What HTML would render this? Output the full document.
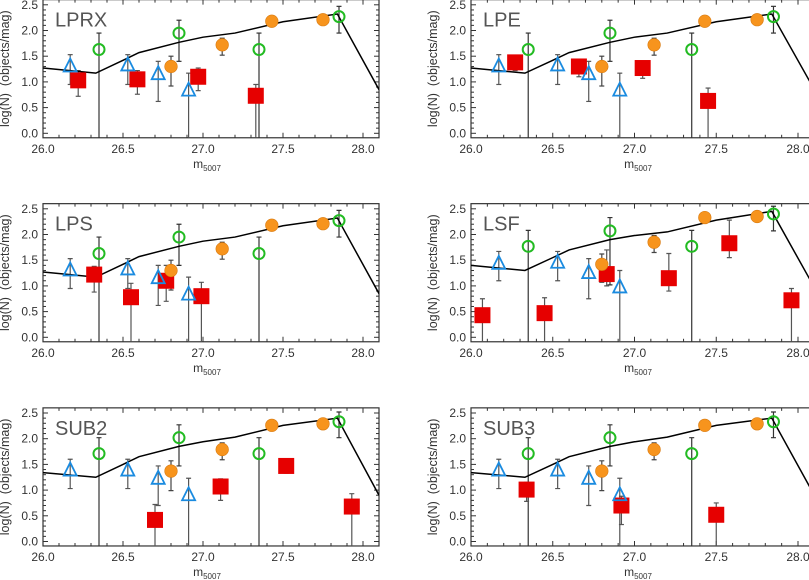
<!DOCTYPE html>
<html><head><meta charset="utf-8"><style>
html,body{margin:0;padding:0;background:#fff;}
svg{display:block;font-family:"Liberation Sans",sans-serif;}
</style></head><body>
<svg id="fig" width="809" height="580" xmlns="http://www.w3.org/2000/svg"></svg>
<script>
// ---------- data ----------
const panelNames = ["LPRX","LPE","LPS","LSF","SUB2","SUB3"];
const xTicks = [26.0,26.5,27.0,27.5,28.0];
const xTickLabels = ["26.0","26.5","27.0","27.5","28.0"];
const yTicks = [0,0.5,1,1.5,2,2.5];
const yTickLabels = ["0.0","0.5","1.0","1.5","2.0","2.5"];

const lineX = [26.0,26.33,26.5,26.6,26.85,27.0,27.2,27.5,27.84,28.1];
const lineYA = [1.27,1.17,1.42,1.57,1.77,1.87,1.95,2.17,2.32,0.85];
const lineYLSF = [1.40,1.30,1.55,1.70,1.90,1.98,2.05,2.28,2.45,0.97];
const lineYSUB = [1.34,1.25,1.50,1.65,1.85,1.94,2.03,2.26,2.40,0.90];

const triX = [26.17,26.53,26.72,26.91];
const triYA = [1.30,1.32,1.15,0.83], triLoA=[0.95,0.95,0.62,-0.1], triHiA=[1.53,1.53,1.40,1.17];
const triYLSF = [1.43,1.45,1.25,0.97], triLoLSF=[1.10,1.10,0.75,-0.1], triHiLSF=[1.67,1.67,1.53,1.30];
const triYSUB = [1.38,1.38,1.22,0.90], triLoSUB=[1.03,1.03,0.70,-0.1], triHiSUB=[1.60,1.60,1.47,1.23];

const circX = [26.35,26.85,27.35,27.85];
const circYA = [1.63,1.95,1.63,2.27], circLoA=[-0.1,1.40,-0.1,1.95], circHiA=[1.95,2.20,1.95,2.47];
const circYLSF = [1.77,2.07,1.77,2.40], circLoLSF=[-0.1,1.02,-0.1,2.07], circHiLSF=[2.08,2.33,2.08,2.55];
const circYSUB = [1.71,2.02,1.71,2.33], circLoSUB=[-0.1,1.47,-0.1,2.02], circHiSUB=[2.02,2.27,2.02,2.52];

const orX = [26.80,27.12,27.43,27.75];
const orYA = [1.30,1.72,2.18,2.21], orLoA=[0.92,1.52,2.12,2.12], orHiA=[1.50,1.85,2.22,2.27];
const orYLSF = [1.42,1.85,2.33,2.35], orLoLSF=[1.07,1.65,2.25,2.25], orHiLSF=[1.62,1.98,2.40,2.40];
const orYSUB = [1.37,1.79,2.26,2.29], orLoSUB=[0.99,1.59,2.18,2.20], orHiSUB=[1.57,1.92,2.30,2.33];

const sqX_LPRX=[26.22,26.59,26.97,27.33], sqY_LPRX=[1.03,1.05,1.10,0.73], sqLo_LPRX=[0.72,0.76,0.83,-0.1], sqHi_LPRX=[1.22,1.22,1.27,0.95];
const sqX_LPE=[26.27,26.66,27.05,27.45], sqY_LPE=[1.38,1.30,1.27,0.63], sqLo_LPE=[1.22,1.10,1.07,-0.1], sqHi_LPE=[1.40,1.42,1.40,0.88];
const sqX_LPS=[26.32,26.55,26.77,26.99], sqY_LPS=[1.22,0.78,1.10,0.80], sqLo_LPS=[0.88,-0.1,0.70,-0.1], sqHi_LPS=[1.38,1.05,1.40,1.07];
const sqX_LSF=[26.07,26.45,26.83,27.21,27.58,27.96], sqY_LSF=[0.43,0.47,1.23,1.15,1.83,0.72], sqLo_LSF=[-0.1,-0.1,1.0,0.9,1.55,-0.1], sqHi_LSF=[0.75,0.77,1.70,1.63,2.28,0.95];
const sqX_SUB2=[26.70,27.11,27.52,27.93], sqY_SUB2=[0.42,1.07,1.47,0.68], sqLo_SUB2=[-0.1,0.80,1.33,-0.1], sqHi_SUB2=[0.72,1.22,1.50,0.93];
const sqX_SUB3=[26.34,26.92,27.50], sqY_SUB3=[1.01,0.70,0.52], sqLo_SUB3=[0.78,0.33,-0.1], sqHi_SUB3=[1.15,0.88,0.75];

// ---------- layout ----------
const NS="http://www.w3.org/2000/svg";
const svg=document.getElementById('fig');
function mk(tag,attrs,parent){const e=document.createElementNS(NS,tag);for(const k in attrs)e.setAttribute(k,attrs[k]);(parent||svg).appendChild(e);return e;}
const colX0=[43,471], colScale=[160,163.5];
const rowY0=[133.3,337.3,541.5], yScale=51.4;
const XMIN=26.0, XMAX=28.1, YMIN=-0.087, YMAX=2.6;

const perPanel={
 LPRX:{ly:lineYA,ty:triYA,tl:triLoA,th:triHiA,cy:circYA,cl:circLoA,ch:circHiA,oy:orYA,ol:orLoA,oh:orHiA,sx:sqX_LPRX,sy:sqY_LPRX,sl:sqLo_LPRX,sh:sqHi_LPRX},
 LPE:{ly:lineYA,ty:triYA,tl:triLoA,th:triHiA,cy:circYA,cl:circLoA,ch:circHiA,oy:orYA,ol:orLoA,oh:orHiA,sx:sqX_LPE,sy:sqY_LPE,sl:sqLo_LPE,sh:sqHi_LPE},
 LPS:{ly:lineYA,ty:triYA,tl:triLoA,th:triHiA,cy:circYA,cl:circLoA,ch:circHiA,oy:orYA,ol:orLoA,oh:orHiA,sx:sqX_LPS,sy:sqY_LPS,sl:sqLo_LPS,sh:sqHi_LPS},
 LSF:{ly:lineYLSF,ty:triYLSF,tl:triLoLSF,th:triHiLSF,cy:circYLSF,cl:circLoLSF,ch:circHiLSF,oy:orYLSF,ol:orLoLSF,oh:orHiLSF,sx:sqX_LSF,sy:sqY_LSF,sl:sqLo_LSF,sh:sqHi_LSF},
 SUB2:{ly:lineYSUB,ty:triYSUB,tl:triLoSUB,th:triHiSUB,cy:circYSUB,cl:circLoSUB,ch:circHiSUB,oy:orYSUB,ol:orLoSUB,oh:orHiSUB,sx:sqX_SUB2,sy:sqY_SUB2,sl:sqLo_SUB2,sh:sqHi_SUB2},
 SUB3:{ly:lineYSUB,ty:triYSUB,tl:triLoSUB,th:triHiSUB,cy:circYSUB,cl:circLoSUB,ch:circHiSUB,oy:orYSUB,ol:orLoSUB,oh:orHiSUB,sx:sqX_SUB3,sy:sqY_SUB3,sl:sqLo_SUB3,sh:sqHi_SUB3}
};

panelNames.forEach((name,i)=>{
  const col=i%2,row=Math.floor(i/2);
  const X=v=>colX0[col]+(v-XMIN)*colScale[col];
  const Y=v=>rowY0[row]-v*yScale;
  const left=X(XMIN),right=X(XMAX),top=Y(YMAX),bot=Y(YMIN);
  const d=perPanel[name];
  const g=mk('g',{});
  
  
  const cid='clip'+i;
  const cp=mk('clipPath',{id:cid},g);mk('rect',{x:left,y:top,width:right-left,height:bot-top},cp);
  const tk=mk('g',{stroke:'#333','stroke-width':1},g);
  
  
  for(let k=0;k<=21;k++){const v=26+k*0.1,x=X(v),L=(k%5===0)?5:3;
    mk('line',{x1:x,y1:bot,x2:x,y2:bot-L},tk);mk('line',{x1:x,y1:top,x2:x,y2:top+L},tk);}
  for(let k=0;k<=25;k++){const v=k*0.1,y=Y(v),L=(k%5===0)?5:3;
    mk('line',{x1:left,y1:y,x2:left+L,y2:y},tk);mk('line',{x1:right,y1:y,x2:right-L,y2:y},tk);}
  mk('rect',{x:left,y:top,width:right-left,height:bot-top,fill:'none',stroke:'#333','stroke-width':1.2},g);
  xTicks.forEach((v,k)=>{const t=mk('text',{x:X(v),y:bot+15,'text-anchor':'middle','font-size':12,fill:'#333'},g);t.textContent=xTickLabels[k];
    
    });
  yTicks.forEach((v,k)=>{const t=mk('text',{x:left-5,y:Y(v)+4,'text-anchor':'end','font-size':12,fill:'#333'},g);t.textContent=yTickLabels[k];
    
    });
  const xt=mk('text',{x:(col?638:207),y:bot+30,'text-anchor':'middle','font-size':12,fill:'#333'},g);
  xt.innerHTML='m<tspan font-size="8" dy="3">5007</tspan>';
  
  
  const yc=(top+bot)/2, yx=(col?437:9);
  const yt=mk('text',{x:yx,y:yc,'text-anchor':'middle','font-size':12.5,fill:'#333',transform:`rotate(-90 ${yx} ${yc})`},g);
  yt.textContent='log(N)\u00a0\u00a0(objects/mag)';
  
  
  const ti=mk('text',{x:left+12,y:top+27,'font-size':20,fill:'#555'},g);ti.textContent=name;
  
  
  const pl=mk('g',{'clip-path':`url(#${cid})`},g);
  function eb(xs,lo,hi,col_){xs.forEach((x,k)=>{const px=X(x);
    mk('line',{x1:px,y1:Y(lo[k]),x2:px,y2:Y(hi[k]),stroke:col_,'stroke-width':1.2},pl);
    mk('line',{x1:px-2.5,y1:Y(hi[k]),x2:px+2.5,y2:Y(hi[k]),stroke:col_,'stroke-width':1.2},pl);
    if(lo[k]>0) mk('line',{x1:px-2.5,y1:Y(lo[k]),x2:px+2.5,y2:Y(lo[k]),stroke:col_,'stroke-width':1.2},pl);});}
  eb(triX,d.tl,d.th,'#555');eb(circX,d.cl,d.ch,'#333');eb(orX,d.ol,d.oh,'#444');eb(d.sx,d.sl,d.sh,'#555');
  const ln=mk('polyline',{points:lineX.map((x,k)=>X(x)+','+Y(d.ly[k])).join(' '),fill:'none',stroke:'#000','stroke-width':1.5},pl);
  
  
  d.sx.forEach((x,k)=>{const r=mk('rect',{x:X(x)-8,y:Y(d.sy[k])-8,width:16,height:16,fill:'#e60000'},pl);
    
    });
  triX.forEach((x,k)=>{const px=X(x),py=Y(d.ty[k]);
    const p=mk('polygon',{points:`${px},${py-8} ${px-6.5},${py+5} ${px+6.5},${py+5}`,fill:'none',stroke:'#1a8be0','stroke-width':1.8},pl);
    
    });
  orX.forEach((x,k)=>{const c=mk('circle',{cx:X(x),cy:Y(d.oy[k]),r:6.3,fill:'#f7941d',stroke:'#d87a10','stroke-width':0.6},pl);
    
    });
  circX.forEach((x,k)=>{const c=mk('circle',{cx:X(x),cy:Y(d.cy[k]),r:5.5,fill:'none',stroke:'#22bb22','stroke-width':2},pl);
    
    });
});
</script>
</body></html>
